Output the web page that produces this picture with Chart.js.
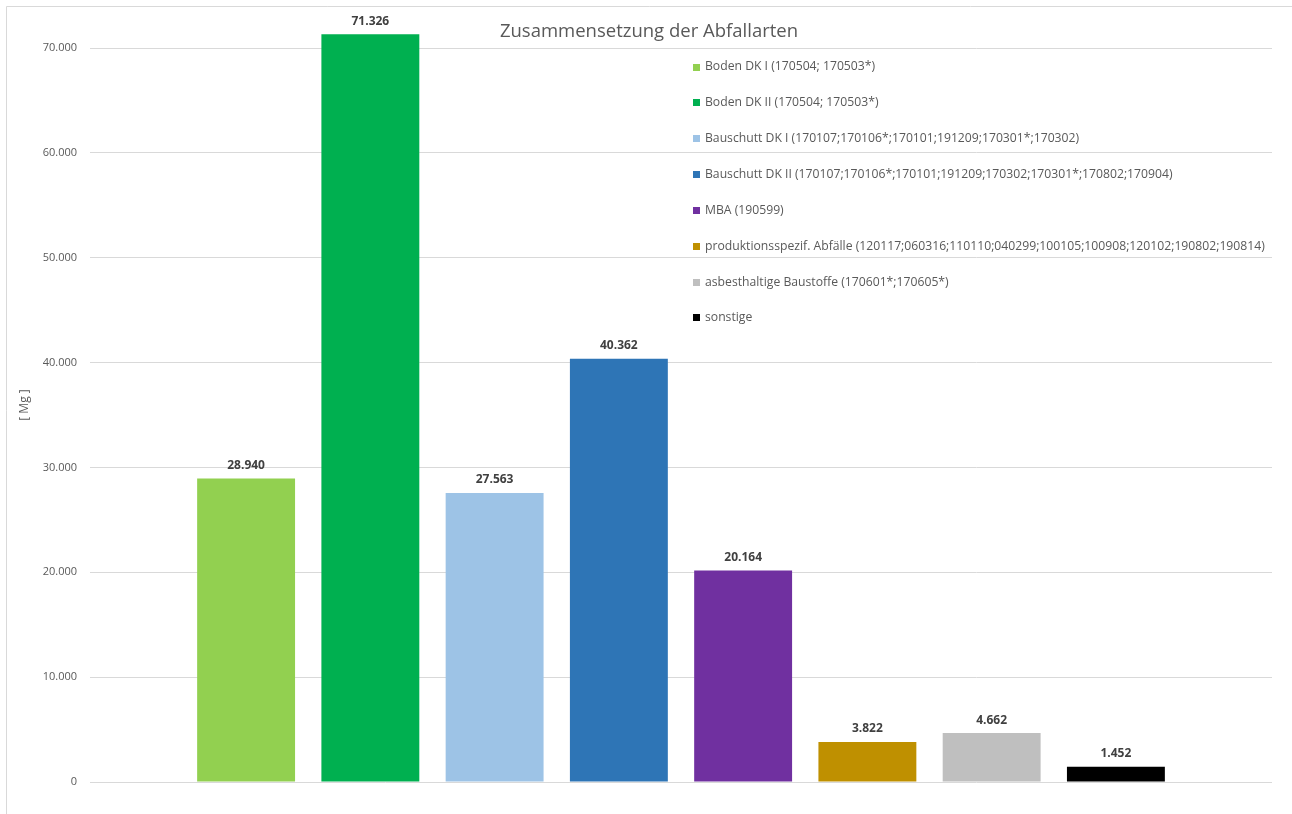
<!DOCTYPE html>
<html lang="de">
<head>
<meta charset="utf-8">
<title>Zusammensetzung der Abfallarten</title>
<script src="https://cdn.jsdelivr.net/npm/chart.js@4/dist/chart.umd.min.js"></script>
<style>
  html, body { margin: 0; padding: 0; background: #fff; overflow: hidden; }
  #wrap { position: relative; width: 1292px; height: 814px; }
</style>
</head>
<body>
<div id="wrap"><canvas id="abfall" width="1292" height="814"></canvas></div>
<script>
// Abfallarten und Mengen in Mg
const wasteTypes = [
  'Boden DK I (170504; 170503*)',
  'Boden DK II (170504; 170503*)',
  'Bauschutt DK I (170107;170106*;170101;191209;170301*;170302)',
  'Bauschutt DK II (170107;170106*;170101;191209;170302;170301*;170802;170904)',
  'MBA (190599)',
  'produktionsspezif. Abfälle (120117;060316;110110;040299;100105;100908;120102;190802;190814)',
  'asbesthaltige Baustoffe (170601*;170605*)',
  'sonstige'
];
const amounts = [28940, 71326, 27563, 40362, 20164, 3822, 4662, 1452];
const barColors = ['#92D050', '#00B050', '#9DC3E6', '#2E75B6', '#7030A0', '#BF9000', '#BFBFBF', '#000000'];
const yTicks = [0, 10000, 20000, 30000, 40000, 50000, 60000, 70000];

const FONT = '"Open Sans", "Liberation Sans", sans-serif';
const TEXT_GREY = '#595959';

// 71326 -> "71.326"
function fmtDE(v) {
  return String(Math.round(v)).replace(/\B(?=(\d{3})+(?!\d))/g, '.');
}

// frame, title, axis caption, value labels and legend drawn on the canvas
const decorations = {
  id: 'decorations',
  beforeDraw(chart) {
    const ctx = chart.ctx;
    ctx.save();
    ctx.fillStyle = '#fff';
    ctx.fillRect(0, 0, chart.width, chart.height);
    ctx.strokeStyle = '#d9d9d9';
    ctx.lineWidth = 1;
    ctx.beginPath();
    ctx.moveTo(6.5, chart.height);
    ctx.lineTo(6.5, 6.5);
    ctx.lineTo(chart.width, 6.5);
    ctx.stroke();
    ctx.restore();
  },
  afterDatasetsDraw(chart) {
    const ctx = chart.ctx;
    ctx.save();

    // value labels above the bars
    ctx.font = 'bold 12px ' + FONT;
    ctx.fillStyle = '#404040';
    ctx.textAlign = 'center';
    ctx.textBaseline = 'bottom';
    chart.data.datasets.forEach((ds, i) => {
      const bar = chart.getDatasetMeta(i).data[0];
      ctx.fillText(fmtDE(ds.data[0]), bar.x, bar.y - 7);
    });

    // chart title
    ctx.font = '18.5px ' + FONT;
    ctx.fillStyle = TEXT_GREY;
    ctx.textBaseline = 'middle';
    ctx.fillText('Zusammensetzung der Abfallarten', 649, 32);

    // y axis caption
    ctx.save();
    ctx.translate(25, 405);
    ctx.rotate(-Math.PI / 2);
    ctx.font = '12px ' + FONT;
    ctx.fillText('[ Mg ]', 0, 0);
    ctx.restore();

    // legend inside the plot
    ctx.font = '12.2px ' + FONT;
    ctx.textAlign = 'left';
    chart.data.datasets.forEach((ds, i) => {
      const y = 67 + i * 35.85;
      ctx.fillStyle = ds.backgroundColor;
      ctx.fillRect(693, Math.round(y - 3.5), 7, 7);
      ctx.fillStyle = TEXT_GREY;
      ctx.fillText(ds.label, 705, y);
    });
    ctx.restore();
  }
};

const datasets = wasteTypes.map((label, i) => ({
  label: label,
  data: [amounts[i]],
  backgroundColor: barColors[i],
  borderWidth: 0,
  categoryPercentage: 0.841,
  barPercentage: 0.788
}));

new Chart(document.getElementById('abfall').getContext('2d'), {
  type: 'bar',
  data: { labels: [''], datasets: datasets },
  options: {
    responsive: false,
    animation: false,
    devicePixelRatio: 1,
    layout: { padding: { top: 6.1, right: 20, bottom: 32, left: 0 } },
    plugins: {
      legend: { display: false },
      title: { display: false },
      tooltip: { enabled: false }
    },
    scales: {
      x: { display: false },
      y: {
        min: 0,
        max: 74000,
        afterFit: s => {
          s.width = 90;
          s.paddingTop = 0;
          s.paddingBottom = 0;
        },
        afterBuildTicks: s => { s.ticks = yTicks.map(v => ({ value: v })); },
        border: { display: false },
        grid: { color: '#d9d9d9', lineWidth: 1, drawTicks: false },
        ticks: {
          padding: 13,
          color: TEXT_GREY,
          font: { family: FONT, size: 11 },
          callback: v => fmtDE(v)
        }
      }
    }
  },
  plugins: [decorations]
});
</script>
</body>
</html>
